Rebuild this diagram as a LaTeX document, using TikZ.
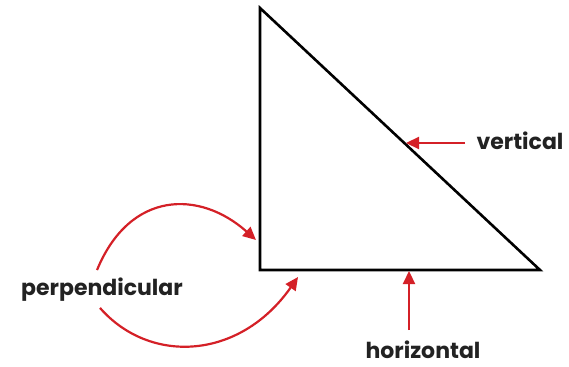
\documentclass[tikz,border=0pt]{standalone}
\usepackage{fontspec}
\setmainfont{Poppins}
\usepackage{tikz}
\definecolor{markred}{RGB}{212,32,39}
\definecolor{labelgray}{RGB}{34,34,34}
\usetikzlibrary{arrows.meta, positioning}
\tikzset{
    triside/.style={draw, line width=2.6pt, line join=miter},
    trilabel/.style={inner sep=0pt, font=\bfseries\fontsize{22}{26}\selectfont, text=labelgray},
    triarrow/.style={-{Triangle[length=13pt, width=12pt]}, line width=2.2pt, color=markred}
}
\begin{document}
\begin{tikzpicture}[x=1pt, y=-1pt]
  \useasboundingbox (0,0) rectangle (569,366);
  \coordinate (top) at (260,8);
  \coordinate (corner) at (260,270);
  \coordinate (right) at (540,270);
  \draw[triside] (top) -- (corner) -- (right) -- cycle;

  \node[trilabel] (vert) at (520,141) {vertical};
  \node[trilabel] (horiz) at (423,350) {horizontal};
  \node[trilabel] (perp) at (102,290) {perpendicular};

  \coordinate (vtail) at (465,143);
  \coordinate (htail) at (409,330);
  \coordinate (vtip) at (406,143);
  \coordinate (htip) at (409,271);
  \coordinate (ptipa) at (256,240);
  \coordinate (ptipb) at (298,277);

  \draw[triarrow] (vtail) -- (vtip);
  \draw[triarrow] (htail) -- (htip);
  \draw[triarrow] (perp.north) ++(-5,-8) .. controls (130,190) and (200,190) .. (ptipa);
  \draw[triarrow] (perp.south) ++(-2,6) .. controls (150,365) and (240,360) .. (ptipb);
\end{tikzpicture}
\end{document}
